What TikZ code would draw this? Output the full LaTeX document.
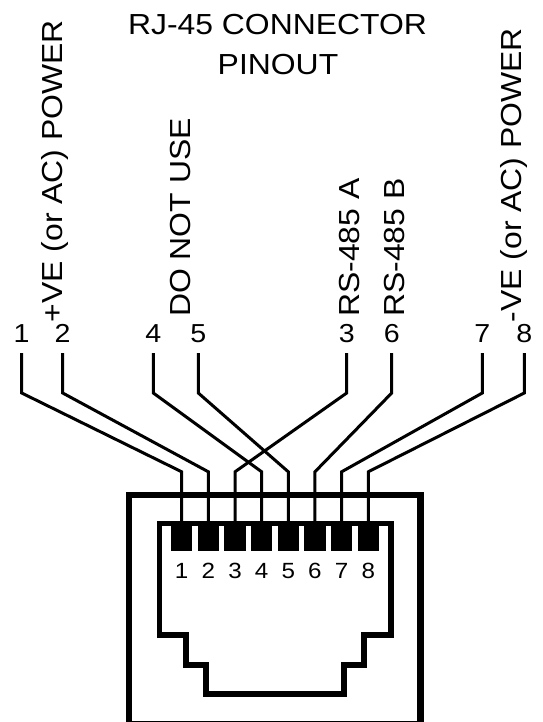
\documentclass[tikz,border=0pt]{standalone}
\usepackage{fontspec}
\setmainfont[FakeStretch=1.1]{Liberation Sans}
\usetikzlibrary{positioning}

\begin{document}
\begin{tikzpicture}[x=1pt, y=-1pt,
  head/.style={font=\fontsize{29}{34}\selectfont, inner sep=0, anchor=base},
  side/.style={font=\fontsize{29}{34}\selectfont, inner sep=0, rotate=90, anchor=base west},
  topnum/.style={font=\fontsize{26}{30}\selectfont, inner sep=0, anchor=base},
  pinnum/.style={font=\fontsize{22}{26}\selectfont, inner sep=0},
  pad/.style={fill=black, inner sep=0, minimum width=21.5pt, minimum height=28pt},
  wire/.style={line width=3pt},
  shell/.style={line width=6.5pt},
  jack/.style={line width=5.4pt}]

  \useasboundingbox (0,0) rectangle (542,722);
  \clip (0,0) rectangle (542,722);

  % Title
  \node[head] (title) at (277.5,35) {RJ-45 CONNECTOR};
  \node[head] (subtitle) at (278,75) {PINOUT};

  % Signal names
  \node[side] (pwrp) at (62,322.5) {+VE (or AC) POWER};
  \node[side] (dnu) at (190.4,317) {DO NOT USE};
  \node[side] (rsa) at (359.6,317) {RS-485 A};
  \node[side] (rsb) at (404.8,317) {RS-485 B};
  \node[side] (pwrm) at (521,322.5) {-VE (or AC) POWER};

  % Wire numbers at the top
  \foreach \k/\x in {1/21.7, 2/62.7, 3/346.7, 4/153.3, 5/198.3, 6/391.7, 7/482.3, 8/524.3}
  {
    \node[topnum] (n\k) at (\x,342) {\k};
  }

  % Jack body
  \draw[shell] (129.2,494.8) rectangle (420.5,723.8);
  \draw[jack] (159.5,523.3) -- (159.5,635) -- (186,635) -- (186,665) -- (206,665)
    -- (206,694) -- (344,694) -- (344,665) -- (364,665) -- (364,635) -- (391,635)
    -- (391,523.3) -- cycle;

  % Contacts and their numbers
  \foreach \k in {1,...,8}
  {
    \node[pad] (pad\k) at ({155.05+26.65*\k},537) {};
    \node[pinnum, below=12pt of pad\k] (m\k) {\k};
  }

  % Wires from the numbers down to the contacts
  \foreach \k in {1,...,8}
  {
    \draw[wire] ([yshift=-11pt]n\k.base) -- ([yshift=-51pt]n\k.base)
      -- ([yshift=51pt]pad\k.north) -- (pad\k.north);
  }
\end{tikzpicture}
\end{document}
